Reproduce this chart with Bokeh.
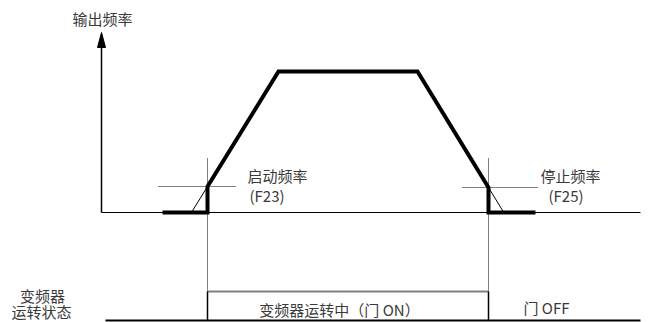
from bokeh.plotting import figure
from bokeh.models import Range1d, ColumnDataSource
from bokeh.core.properties import value
from bokeh.embed import file_html
from bokeh.resources import INLINE

# ---- data (time on x, output frequency on y; axis origin at 0,0) ----
ramp_t = [61, 106, 106, 177, 316, 387, 387, 434]
ramp_f = [0, 0, 26, 141, 141, 25, 0, 0]
t_start = 106          # start point (F23)
f_start = 26
t_stop = 387           # stop point (F25)
f_stop = 25
f_axis_top = 180
t_axis_end = 539
state_top = -79
state_bottom = -108
state_line_start = 4

labels_left_text = ["启动频率", "(F23)", "停止频率", "(F25)", "门 OFF"]
labels_left_t = [146, 148, 439, 447, 422]
labels_left_f = [37, 17, 37, 17, -95]

labels_center_text = ["输出频率", "变频器", "运转状态", "变频器运转中（门 ON）"]
labels_center_t = [1, -59, -60, 238]
labels_center_f = [194, -83, -99, -97]

FONT = value("Noto Sans CJK SC")
TXT = "#3a3a3a"

p = figure(width=655, height=322, output_backend="svg", toolbar_location=None,
           x_range=Range1d(-101, 554), y_range=Range1d(-110, 212), min_border=0)
p.axis.visible = False
p.grid.visible = False
p.outline_line_color = None
p.background_fill_color = "white"
p.border_fill_color = "white"

# vertical axis with arrow
p.line([0, 0], [0, f_axis_top - 14], line_color="black", line_width=1.5)
p.patch([0, -4, 4], [f_axis_top, f_axis_top - 15, f_axis_top - 15],
        fill_color="black", line_color="black", line_width=1)
# baseline
p.line([0, t_axis_end], [0, 0], line_color="black", line_width=1.2)

# dotted guide lines
p.line([t_start, t_start], [54, state_top], line_color="black", line_width=1, line_dash="1 1")
p.line([t_stop, t_stop], [54, state_top], line_color="black", line_width=1, line_dash="1 1")
p.line([t_start - 49, t_start + 28], [f_start, f_start], line_color="black", line_width=1, line_dash="1 1")
p.line([t_stop - 26, t_stop + 50], [f_stop, f_stop], line_color="black", line_width=1, line_dash="1 1")

# thin extrapolation of the ramps down to zero
slope_up = (ramp_t[3] - ramp_t[2]) / (ramp_f[3] - ramp_f[2])
slope_dn = (ramp_t[5] - ramp_t[4]) / (ramp_f[4] - ramp_f[5])
p.line([t_start - f_start * slope_up, t_start], [0, f_start], line_color="black", line_width=1)
p.line([t_stop + f_stop * slope_dn, t_stop], [0, f_stop], line_color="black", line_width=1)

# thick frequency profile
p.line(ramp_t, ramp_f, line_color="black", line_width=4, line_join="miter")

# state panel
p.line([t_start, t_stop], [state_top, state_top], line_color="#808080", line_width=2)
p.line([t_start, t_start], [state_top, state_bottom], line_color="black", line_width=1.5)
p.line([t_stop, t_stop], [state_top, state_bottom], line_color="black", line_width=1.5)
p.line([state_line_start, t_axis_end], [state_bottom, state_bottom], line_color="black", line_width=2)

src_l = ColumnDataSource(dict(x=labels_left_t, y=labels_left_f, text=labels_left_text))
p.text("x", "y", text="text", source=src_l, text_font=FONT, text_font_size="15px",
       text_color=TXT, text_align="left", text_baseline="middle")
src_c = ColumnDataSource(dict(x=labels_center_t, y=labels_center_f, text=labels_center_text))
p.text("x", "y", text="text", source=src_c, text_font=FONT, text_font_size="15px",
       text_color=TXT, text_align="center", text_baseline="middle")

open("out.html", "w").write(file_html(p, INLINE))
